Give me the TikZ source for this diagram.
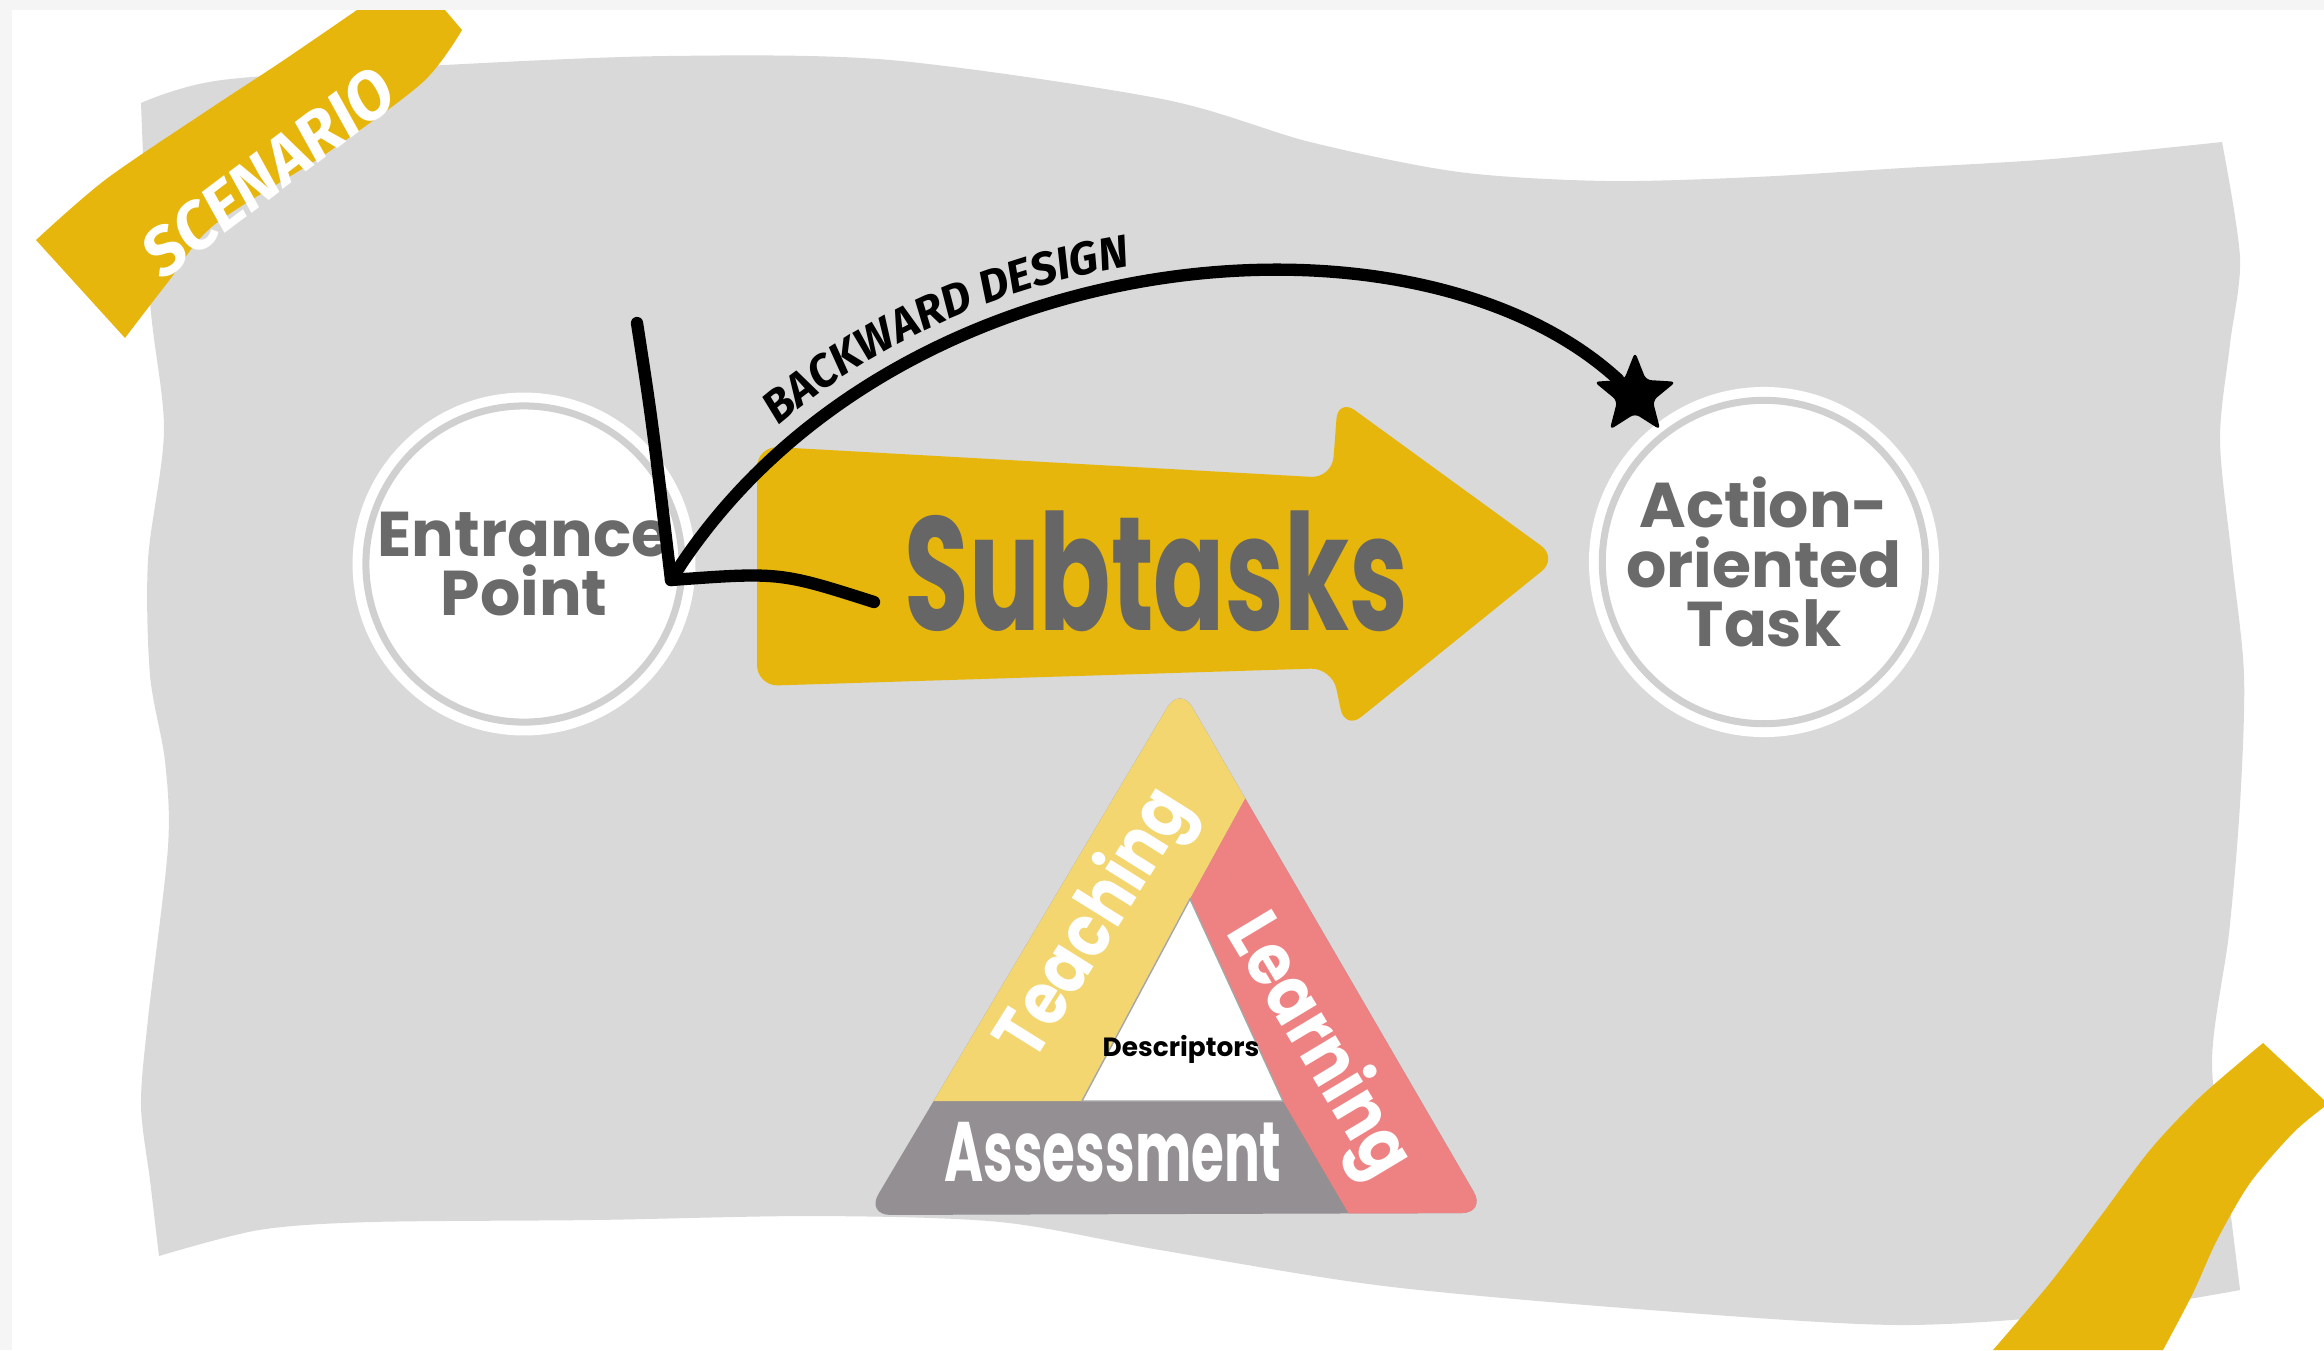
\documentclass[tikz,border=0pt]{standalone}
\usepackage{fontspec}
\usepackage{xcolor}
\usepackage{graphicx}
\usepackage{tikz}
\usetikzlibrary{calc}
\usetikzlibrary{shapes.geometric,decorations.text}

\newfontfamily\labelfont{Poppins}
\newfontfamily\handfont{Fira Sans}

\definecolor{sheet}{HTML}{D9D9D9}
\definecolor{mustard}{HTML}{E6B60C}
\definecolor{paleyellow}{HTML}{F3D66F}
\definecolor{salmon}{HTML}{EE8282}
\definecolor{slate}{HTML}{938F93}
\definecolor{ink}{HTML}{6A6A6A}
\definecolor{subink}{HTML}{666666}
\definecolor{ring}{HTML}{D0D0D0}
\definecolor{frame}{HTML}{F5F5F5}

\begin{document}
\begin{tikzpicture}[x=0.01cm,y=-0.01cm,
  stop/.style={circle,fill=white,draw=ring,line width=2pt,minimum size=3.16cm,inner sep=0pt,
    preaction={draw=white,line width=7.6pt},text=ink,align=center,
    font=\labelfont\bfseries\fontsize{18}{17}\selectfont},
  pen/.style={line width=3.5pt,line cap=round,line join=round},
  band/.style={text=white,font=\labelfont\bfseries\fontsize{21}{21}\selectfont}]
\useasboundingbox (0,0) rectangle (2324,1350);

% Frame
\fill[frame] (0,0) rectangle (2324,1350);
\fill[white] (12,10) rectangle (2324,1350);

% Sheet
\fill[sheet] plot[smooth] coordinates {(141,103) (222,80) (445,65) (667,56) (890,60) (1162,99) (1310,142) (1459,172) (1607,181) (1755,177) (1903,168) (2052,159) (2222,142)}
  -- plot[smooth] coordinates {(2222,142) (2240,258) (2230,344) (2220,440) (2232,560) (2244,675) (2240,804) (2229,933) (2212,1062) (2228,1192) (2240,1290)}
  -- plot[smooth] coordinates {(2240,1290) (2100,1312) (1900,1325) (1650,1310) (1384,1286) (1160,1250) (1000,1222) (815,1216) (593,1220) (371,1222) (259,1230) (159,1256)}
  -- plot[smooth] coordinates {(159,1256) (150,1180) (141,1105) (148,1019) (168,847) (165,761) (150,675) (148,560) (164,430) (150,301) (141,103)}
  -- cycle;

% Ribbons
\fill[mustard] plot[smooth] coordinates {(36,240) (105,180) (205,112) (281,62) (357,10)} -- (445,10) -- (462,30)
  -- plot[smooth] coordinates {(462,30) (423,82) (327,153) (214,225) (168,282) (125,338)} -- cycle;
\node[rotate=37,text=white,font=\handfont\bfseries\itshape\fontsize{19}{19}\selectfont] (scen) at (268,172) {SCENARIO};
\fill[mustard] plot[smooth] coordinates {(1993,1350) (2050,1283) (2100,1217) (2150,1150) (2200,1097) (2263,1043)} -- (2324,1100)
  -- plot[smooth] coordinates {(2324,1107) (2293,1133) (2250,1183) (2217,1240) (2193,1293) (2163,1350)} -- cycle;

% Subtasks arrow
\fill[mustard,rounded corners=6pt] (757,446) -- (1332,478) -- (1338,398) -- (1558,558) -- (1345,730) -- (1332,668) -- (757,686) -- cycle;
\node[text=subink,font=\labelfont\bfseries\fontsize{46}{46}\selectfont] (sub) at (1156,571) {\scalebox{0.65}[1]{Subtasks}};

% Stops
\node[stop] (entry) at (524,564) {Entrance\\Point};
\node[stop] (task) at (1764,562) {Action-\\oriented\\Task};

% Triangle
\begin{scope}
\clip[rounded corners=7pt] (1180,686) -- (1486,1213) -- (866,1215) -- cycle;
\fill[slate] (800,600) rectangle (1550,1260);
\fill[paleyellow] (1180,640) -- (1272,750) -- (1190,899) -- (1082,1101) -- (850,1101) -- cycle;
\fill[salmon] (1272,750) -- (1190,899) -- (1283,1101) -- (1370,1250) -- (1560,1250) -- (1300,680) -- cycle;
\end{scope}
\fill[white,draw=gray!70,line width=0.4pt] (1190,899) -- (1283,1101) -- (1082,1101) -- cycle;
\node[band,rotate=58] (teach) at (1097,925) {\scalebox{0.85}[1]{Teaching}};
\node[band,rotate=-59] (learn) at (1317,1047) {\scalebox{0.87}[1]{Learning}};
\node[band,font=\labelfont\bfseries\fontsize{24}{24}\selectfont] (assess) at (1113,1152) {\scalebox{0.63}[1]{Assessment}};
\node[font=\labelfont\bfseries\fontsize{7.5}{7.5}\selectfont] (desc) at (1181,1049) {Descriptors};

% Backward design
\node[star,star points=5,star point ratio=2.3,fill=black,minimum size=0.86cm,inner sep=0pt,rounded corners=1.5pt] (goal) at (1635,395) {};
\coordinate (tip) at (671,580);
\coordinate (top) at (637,323);
\coordinate (tail) at (874,602);
\draw[pen] (goal) .. controls (1413,191) and (885,237) .. (tip);
\draw[pen] (top) .. controls (652,420) .. (tip) .. controls (780,572) .. (tail);
\path[decorate,decoration={text along path,text format delimiters={|}{|},
  text={|\handfont\bfseries\itshape\fontsize{13}{13}\selectfont|BACKWARD DESIGN},text align={left indent=1.8cm}}]
  (661,562) .. controls (875,219) and (1403,173) .. (1624,376);
\end{tikzpicture}
\end{document}
